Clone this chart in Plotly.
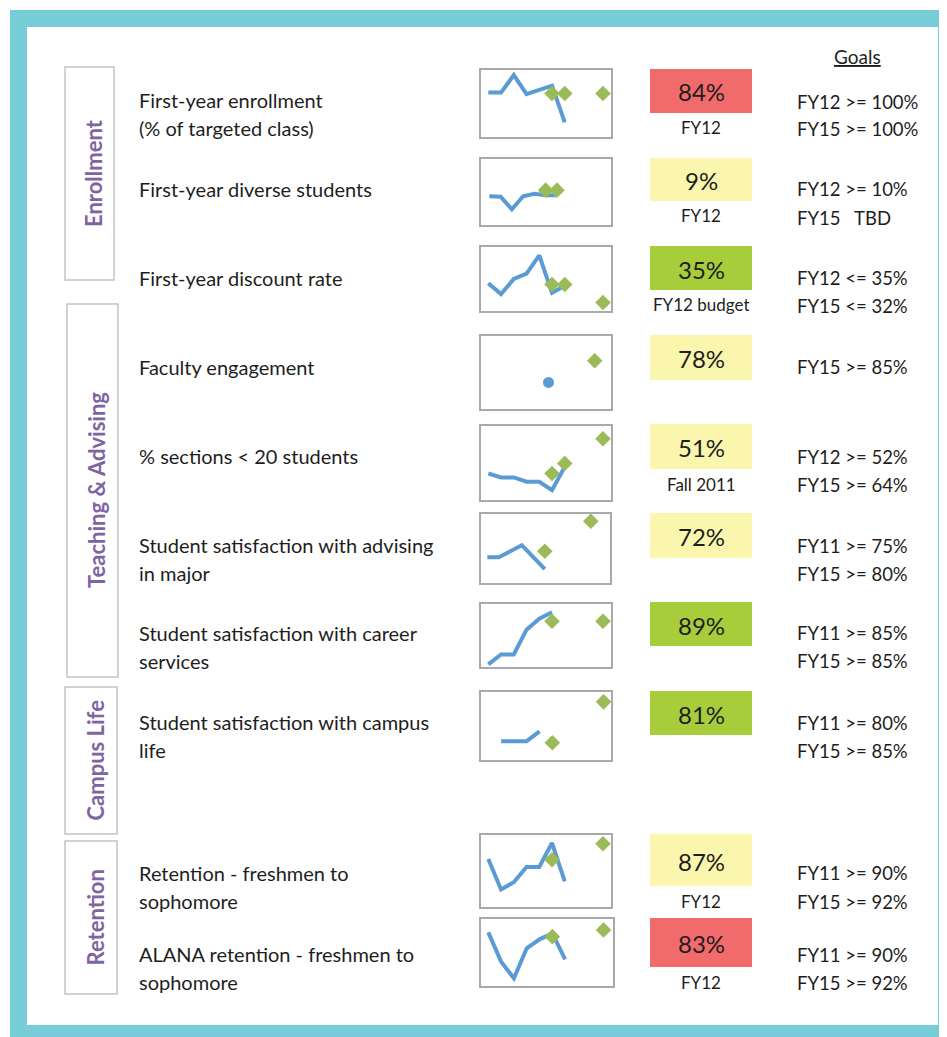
import plotly.graph_objects as go

# page is shown with an 8px body margin; figure coordinates are offset by it
OFF = 8
W, H = 947, 1037
FW, FH = W - OFF, H - OFF

# ---------------- data ----------------
categories = ["Enrollment", "Teaching & Advising", "Campus Life", "Retention"]

metric_lines = [
    ["First-year enrollment", "(% of targeted class)"],
    ["First-year diverse students"],
    ["First-year discount rate"],
    ["Faculty engagement"],
    ["% sections < 20 students"],
    ["Student satisfaction with advising", "in major"],
    ["Student satisfaction with career", "services"],
    ["Student satisfaction with campus", "life"],
    ["Retention - freshmen to", "sophomore"],
    ["ALANA retention - freshmen to", "sophomore"],
]

current_values = ["84%", "9%", "35%", "78%", "51%", "72%", "89%", "81%", "87%", "83%"]
value_status = ["red", "yellow", "green", "yellow", "yellow", "yellow", "green", "green", "yellow", "red"]
value_periods = ["FY12", "FY12", "FY12 budget", "", "Fall 2011", "", "", "", "FY12", "FY12"]

goal_lines = [
    ["FY12 >= 100%", "FY15 >= 100%"],
    ["FY12 >= 10%", "FY15\u00a0\u00a0\u00a0TBD"],
    ["FY12 <= 35%", "FY15 <= 32%"],
    ["FY15 >= 85%"],
    ["FY12 >= 52%", "FY15 >= 64%"],
    ["FY11 >= 75%", "FY15 >= 80%"],
    ["FY11 >= 85%", "FY15 >= 85%"],
    ["FY11 >= 80%", "FY15 >= 85%"],
    ["FY11 >= 90%", "FY15 >= 92%"],
    ["FY11 >= 90%", "FY15 >= 92%"],
]

# sparkline series (x = year index, y = value in %)
enroll_x = [0, 1, 2, 3, 4, 5, 6]
enroll_y = [100.5, 100.5, 110.2, 99.6, 102.0, 104.3, 84.0]
enroll_goal_x = [5, 6, 9]
enroll_goal_y = [100, 100, 100]

diverse_x = [0, 1, 2, 3, 4, 5, 6]
diverse_y = [8.8, 8.7, 6.2, 8.8, 9.3, 9.0, 9.0]
diverse_goal_x = [5, 6]
diverse_goal_y = [10, 10]

discount_x = [0, 1, 2, 3, 4, 5, 6]
discount_y = [35.2, 33.4, 35.9, 36.8, 39.8, 33.6, 34.8]
discount_goal_x = [5, 6, 9]
discount_goal_y = [35, 35, 32]

faculty_x = [5]
faculty_y = [78]
faculty_goal_x = [9]
faculty_goal_y = [85]

sections_x = [0, 1, 2, 3, 4, 5, 6]
sections_y = [47.1, 45.2, 45.2, 43.1, 43.1, 39.0, 50.4]
sections_goal_x = [5, 6, 9]
sections_goal_y = [47.1, 52, 64]

advising_x = [0, 1, 2, 3, 4, 5]
advising_y = [74.0, 74.0, 75.0, 76.0, 74.0, 72.0]
advising_goal_x = [5, 9]
advising_goal_y = [75, 80]

career_x = [0, 1, 2, 3, 4, 5]
career_y = [65.9, 70.3, 70.3, 81.3, 86.2, 89.0]
career_goal_x = [5, 9]
career_goal_y = [85, 85]

campus_x = [1, 2, 3, 4]
campus_y = [80.2, 80.2, 80.2, 81.4]
campus_goal_x = [5, 9]
campus_goal_y = [80, 85]

retention_x = [0, 1, 2, 3, 4, 5, 6]
retention_y = [90.1, 86.3, 87.2, 89.1, 89.1, 92.1, 87.3]
retention_goal_x = [5, 9]
retention_goal_y = [90, 92]

alana_x = [0, 1, 2, 3, 4, 5, 6]
alana_y = [91.3, 82.5, 77.5, 86.5, 89.2, 91.0, 83.2]
alana_goal_x = [5, 9]
alana_goal_y = [90, 92]

# ---------------- layout helpers ----------------
def px(x):
    return (x - OFF) / FW

def py(y):
    return 1 - (y - OFF) / FH

FONT = "Lato"
TXT = "#1E1E1E"
BLUE = "#5B9BD5"
GREEN_D = "#9BBB59"
TEAL = "#76CDD8"
PURPLE = "#8064A2"
STATUS_COL = {"red": "#F26B6C", "yellow": "#FAF6AE", "green": "#A7CE3A"}

series = [
    (enroll_x, enroll_y, enroll_goal_x, enroll_goal_y),
    (diverse_x, diverse_y, diverse_goal_x, diverse_goal_y),
    (discount_x, discount_y, discount_goal_x, discount_goal_y),
    (faculty_x, faculty_y, faculty_goal_x, faculty_goal_y),
    (sections_x, sections_y, sections_goal_x, sections_goal_y),
    (advising_x, advising_y, advising_goal_x, advising_goal_y),
    (career_x, career_y, career_goal_x, career_goal_y),
    (campus_x, campus_y, campus_goal_x, campus_goal_y),
    (retention_x, retention_y, retention_goal_x, retention_goal_y),
    (alana_x, alana_y, alana_goal_x, alana_goal_y),
]

# sparkline frame positions (px) and axis ranges
spark_box = [  # left, right, top, bottom
    (481, 611, 70, 137), (481, 611, 159, 225), (481, 611, 247, 311),
    (481, 611, 336, 409), (481, 611, 426, 500), (481, 610, 514, 583),
    (481, 611, 604, 667), (481, 611, 692, 760), (481, 611, 835, 907),
    (481, 613, 919, 986),
]
spark_xr = [(-0.574, 9.63), (-0.742, 10.8), (-0.574, 9.63), (-0.842, 10.41),
            (-0.574, 9.63), (-0.551, 10.67), (-0.574, 9.63), (-0.571, 9.58),
            (-0.574, 9.63), (-0.571, 9.74)]
spark_yr = [(75.9, 113.0), (3.07, 16.2), (30.6, 41.2), (69.4, 93.0),
            (34.2, 70.2), (69.7, 81.2), (64.7, 92.7), (77.9, 86.2),
            (84.1, 93.1), (75.2, 95.3)]

label_y = [[100, 128], [189], [278], [367], [456], [545, 573], [633, 661],
           [722, 750], [873, 901], [954, 982]]
goal_y = [[102, 129], [189, 218], [278, 306], [367], [457, 485], [546, 574],
          [633, 661], [723, 751], [873, 902], [955, 983]]
vbox_y = [(69, 113), (158, 201), (246, 290), (335, 380), (424, 469),
          (513, 558), (602, 646), (691, 735), (834, 886), (918, 967)]
period_y = [128, 216, 305, None, 484, None, None, None, 901, 982]

cat_box = [(65, 114, 67, 280), (67, 118, 304, 677), (65, 117, 687, 834), (65, 117, 841, 994)]

fig = go.Figure()
layout_axes = {}
for i, (sx, sy, gx, gy) in enumerate(series):
    n = i + 1
    xa = "x" if n == 1 else f"x{n}"
    ya = "y" if n == 1 else f"y{n}"
    if len(sx) == 1:
        fig.add_trace(go.Scatter(x=sx, y=sy, mode="markers", xaxis=xa, yaxis=ya,
                                 marker=dict(color=BLUE, size=11, symbol="circle"),
                                 showlegend=False, hoverinfo="skip"))
    else:
        fig.add_trace(go.Scatter(x=sx, y=sy, mode="lines", xaxis=xa, yaxis=ya,
                                 line=dict(color=BLUE, width=4),
                                 showlegend=False, hoverinfo="skip"))
    fig.add_trace(go.Scatter(x=gx, y=gy, mode="markers", xaxis=xa, yaxis=ya,
                             marker=dict(color=GREEN_D, size=12, symbol="diamond"),
                             showlegend=False, hoverinfo="skip", cliponaxis=False))
    l, r, t, b = spark_box[i]
    key_x = "xaxis" if n == 1 else f"xaxis{n}"
    key_y = "yaxis" if n == 1 else f"yaxis{n}"
    common = dict(showline=True, mirror=True, linecolor="#A9A9A9", linewidth=2,
                  showgrid=False, zeroline=False, showticklabels=False,
                  ticks="", fixedrange=True)
    layout_axes[key_x] = dict(domain=[px(l), px(r)], range=list(spark_xr[i]),
                              anchor=ya, **common)
    layout_axes[key_y] = dict(domain=[py(b), py(t)], range=list(spark_yr[i]),
                              anchor=xa, **common)

shapes = []
# teal frame
shapes.append(dict(type="rect", xref="paper", yref="paper", x0=px(10), x1=px(947),
                   y0=py(1037), y1=py(10), fillcolor=TEAL, line=dict(width=0), layer="below"))
shapes.append(dict(type="rect", xref="paper", yref="paper", x0=px(27), x1=px(938),
                   y0=py(1025), y1=py(27), fillcolor="white", line=dict(width=0), layer="below"))

annotations = []
# category boxes
for name, (l, r, t, b) in zip(categories, cat_box):
    shapes.append(dict(type="rect", xref="paper", yref="paper", x0=px(l), x1=px(r),
                       y0=py(b), y1=py(t), fillcolor="white",
                       line=dict(color="#C4C4C4", width=1.5), layer="below"))
    annotations.append(dict(x=px((l + r) / 2 + 4), y=py((t + b) / 2), xref="paper", yref="paper",
                            text=f"<b>{name}</b>", textangle=-90, showarrow=False,
                            font=dict(family=FONT, size=22, color=PURPLE),
                            xanchor="center", yanchor="middle"))

# metric labels
for lines, ys in zip(metric_lines, label_y):
    for txt, yy in zip(lines, ys):
        annotations.append(dict(x=px(137), y=py(yy), xref="paper", yref="paper", text=txt,
                                showarrow=False, xanchor="left", yanchor="middle",
                                font=dict(family=FONT, size=20, color=TXT)))

# value boxes
for val, st, per, (t, b), pyy in zip(current_values, value_status, value_periods, vbox_y, period_y):
    shapes.append(dict(type="rect", xref="paper", yref="paper", x0=px(650), x1=px(752),
                       y0=py(b), y1=py(t), fillcolor=STATUS_COL[st], line=dict(width=0),
                       layer="below"))
    annotations.append(dict(x=px(701), y=py((t + b) / 2 + 1), xref="paper", yref="paper",
                            text=val, showarrow=False, xanchor="center", yanchor="middle",
                            font=dict(family=FONT, size=24, color=TXT)))
    if per:
        annotations.append(dict(x=px(701), y=py(pyy), xref="paper", yref="paper",
                                text=per, showarrow=False, xanchor="center", yanchor="middle",
                                font=dict(family=FONT, size=17, color=TXT)))

# goals
annotations.append(dict(x=px(857), y=py(56), xref="paper", yref="paper", text="<u>Goals</u>",
                        showarrow=False, xanchor="center", yanchor="middle",
                        font=dict(family=FONT, size=19, color=TXT)))
for lines, ys in zip(goal_lines, goal_y):
    for txt, yy in zip(lines, ys):
        annotations.append(dict(x=px(795), y=py(yy), xref="paper", yref="paper", text=txt,
                                showarrow=False, xanchor="left", yanchor="middle",
                                font=dict(family=FONT, size=18.5, color=TXT)))

fig.update_layout(width=FW, height=FH, margin=dict(l=0, r=0, t=0, b=0),
                  paper_bgcolor="white", plot_bgcolor="rgba(0,0,0,0)",
                  shapes=shapes, annotations=annotations, showlegend=False,
                  **layout_axes)

fig.write_html("out.html", config={"displayModeBar": False})
